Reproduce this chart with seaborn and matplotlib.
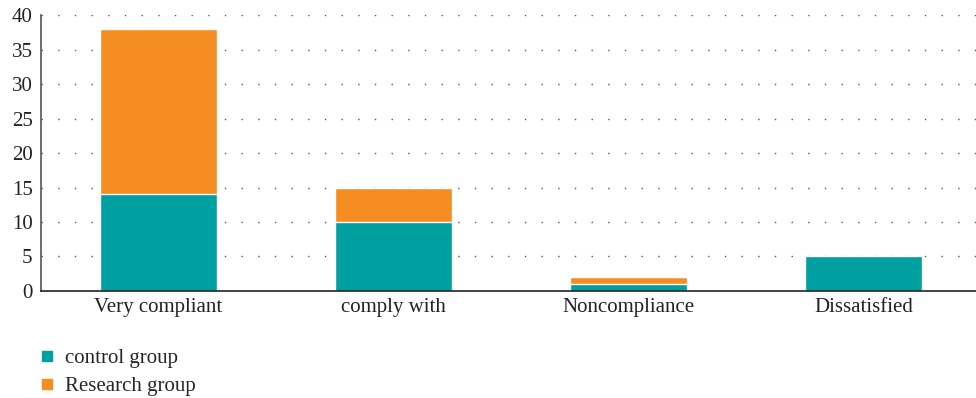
import numpy as np
import pandas as pd
import matplotlib
matplotlib.use('Agg')
import matplotlib.pyplot as plt
from matplotlib.lines import Line2D
import seaborn as sns

# THE DATA
categories = ['Very compliant', 'comply with', 'Noncompliance', 'Dissatisfied']
control_group = [14, 10, 1, 5]
research_group = [24, 5, 1, 0]

df = pd.DataFrame({'category': categories,
                   'control': control_group,
                   'research': research_group})
df['total'] = df['control'] + df['research']

teal = '#00a0a0'
orange = '#f58d22'

sns.set_style('white')
plt.rcParams['font.family'] = ['Liberation Serif', 'DejaVu Serif']

fig = plt.figure(figsize=(9.76, 3.98), dpi=100)
ax = fig.add_axes([0.042, 0.269, 0.963, 0.693])

# stacked bars: total first (research colour), control drawn over it
sns.barplot(data=df, x='category', y='total', color=orange, width=0.5,
            edgecolor='white', linewidth=1, saturation=1, ax=ax)
sns.barplot(data=df, x='category', y='control', color=teal, width=0.5,
            edgecolor='white', linewidth=1, saturation=1, ax=ax)

ax.set_xlim(-0.5, 3.5)
ax.set_ylim(0, 40)
ax.set_yticks(range(0, 41, 5))
ax.set_xlabel('')
ax.set_ylabel('')

# dotted grid
for v in range(5, 41, 5):
    ax.axhline(v, color='#555555', linestyle=(0, (1, 11)), linewidth=1, zorder=0)
ax.set_axisbelow(True)

ax.spines['top'].set_visible(False)
ax.spines['right'].set_visible(False)
ax.spines['left'].set_color('#555555')
ax.spines['left'].set_linewidth(1.2)
ax.spines['bottom'].set_color('#222222')
ax.spines['bottom'].set_linewidth(1.2)

# ticks only between categories on the x axis
ax.tick_params(axis='x', which='major', length=0, pad=5, labelsize=15, labelcolor='#222222')
ax.set_xticks([0.5, 1.5, 2.5], minor=True)
ax.tick_params(axis='x', which='minor', length=6, width=1, color='#333333', direction='out')
ax.tick_params(axis='y', length=0, pad=6, labelsize=15, labelcolor='#222222')

handles = [Line2D([], [], marker='s', linestyle='', markersize=7, color=teal, label='control group'),
           Line2D([], [], marker='s', linestyle='', markersize=7, color=orange, label='Research group')]
fig.legend(handles=handles, loc='upper left', bbox_to_anchor=(0.029, 0.145), frameon=False,
           fontsize=15, handletextpad=0.35, labelspacing=0.4, borderaxespad=0, handlelength=1)

plt.savefig('out.png', dpi=100)
